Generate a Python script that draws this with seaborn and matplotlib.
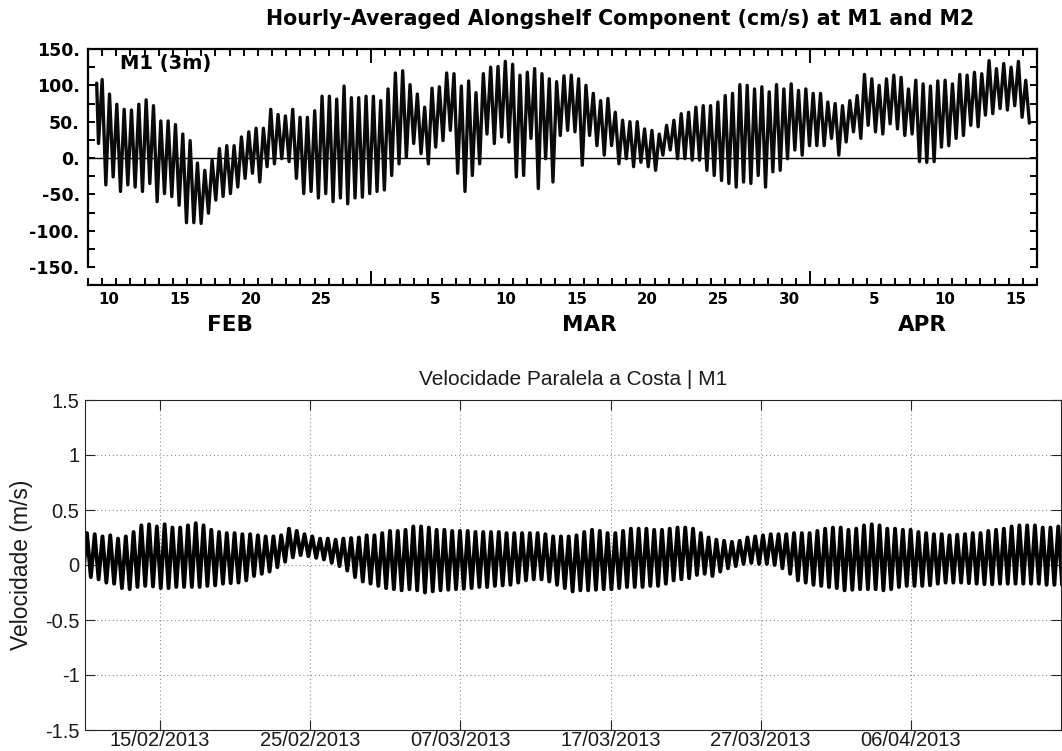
import numpy as np
import pandas as pd
import matplotlib
matplotlib.use("Agg")
import matplotlib.pyplot as plt
import matplotlib.dates as mdates
import matplotlib.ticker as mticker
import seaborn as sns

# ---------------- M1 (3 m): hourly-averaged alongshelf current, cm/s ----------------
# successive semi-diurnal highs and the low that follows each one
top_head = [103, 20]
top_highs = [
    108, 88, 74, 67, 66, 74, 80, 72, 51, 51, 46, 33, 24, -7, -17, -3, 13, 17, 17, 29,
    36, 41, 41, 67, 60, 58, 67, 56, 56, 65, 85, 85, 81, 99, 83, 83, 85, 85, 79, 95,
    117, 120, 101, 88, 70, 96, 98, 117, 116, 99, 106, 90, 116, 125, 126, 133, 129,
    114, 118, 123, 116, 109, 105, 113, 114, 109, 100, 89, 79, 82, 63, 52, 50, 50, 40,
    38, 33, 45, 52, 61, 63, 70, 72, 72, 77, 86, 89, 101, 100, 95, 98, 91, 101, 95,
    102, 93, 95, 89, 89, 77, 75, 72, 79, 86, 115, 109, 100, 109, 114, 111, 95, 107,
    102, 99, 106, 107, 102, 115, 114, 118, 116, 134, 123, 130, 125, 133, 107,
]
top_lows = [
    -37, -26, -46, -37, -40, -46, -35, -60, -49, -53, -65, -89, -89, -90, -76, -58,
    -53, -49, -40, -28, -21, -33, -12, -8, -1, -5, -28, -49, -46, -55, -49, -60, -55,
    -63, -55, -54, -49, -46, -44, -24, -8, 1, 20, 6, -8, 15, 24, 38, -21, -46, -24,
    -8, 33, 20, 29, 22, -26,
    -24, 27, -42, -1, -33, 31, 38, 36, -10, 31, 17, 4, 17, -8, -1, -12, -6, -12, -17,
    4, 11, -1, -1, -3, -3, -17, -24, -31, -35, -40, -33, -35, -24, -40, -19, -17, -1,
    11, 4, 17, 17, 17, 27, 4, 22, 36, 27, 45, 36, 33, 47, 40, 31, 33, -5, -6, -5, 15,
    17, 27, 31, 45, 43, 59, 61, 68, 66, 72, 56, 48,
]
top_ticks_days = {2: [10, 15, 20, 25], 3: [5, 10, 15, 20, 25, 30], 4: [5, 10, 15]}
top_months = ["FEB", "MAR", "APR"]
top_yticks = [-150, -100, -50, 0, 50, 100, 150]

# ---------------- M1: alongshore velocity, m/s ----------------
bot_highs = [
    0.29, 0.28, 0.26, 0.27, 0.24, 0.26, 0.30, 0.36, 0.37, 0.35,
    0.37, 0.34, 0.34, 0.36, 0.38, 0.36, 0.32, 0.30, 0.29, 0.29,
    0.28, 0.28, 0.27, 0.26, 0.26, 0.27, 0.33, 0.31, 0.28, 0.26,
    0.24, 0.24, 0.23, 0.24, 0.245, 0.25, 0.27, 0.27, 0.29, 0.31,
    0.31, 0.32, 0.35, 0.35, 0.34, 0.32, 0.32, 0.31, 0.31, 0.31,
    0.30, 0.30, 0.30, 0.30, 0.29, 0.29, 0.29, 0.29, 0.29, 0.28,
    0.26, 0.26, 0.26, 0.27, 0.30, 0.32, 0.31, 0.29, 0.29, 0.31,
    0.33, 0.33, 0.33, 0.32, 0.32, 0.33, 0.34, 0.34, 0.33, 0.29,
    0.25, 0.23, 0.22, 0.21, 0.22, 0.25, 0.26, 0.27, 0.28, 0.28,
    0.28, 0.29, 0.29, 0.29, 0.31, 0.33, 0.34, 0.34, 0.32, 0.33,
    0.36, 0.37, 0.36, 0.33, 0.33, 0.32, 0.32, 0.30, 0.29, 0.28,
    0.28, 0.27, 0.275, 0.28, 0.29, 0.29, 0.31, 0.32, 0.33, 0.35,
    0.36, 0.36, 0.36, 0.34, 0.34, 0.35, 0.34,
]
bot_lows = [
    -0.10,
    -0.11, -0.13, -0.16, -0.17, -0.21, -0.22, -0.20, -0.19, -0.195, -0.21,
    -0.21, -0.20, -0.20, -0.20, -0.20, -0.19, -0.185, -0.17, -0.165, -0.16,
    -0.14, -0.10, -0.08, -0.06, -0.02, 0.03, 0.07, 0.09, 0.08, 0.065,
    0.05, 0.02, -0.01, -0.05, -0.11, -0.15, -0.17, -0.19, -0.21, -0.22,
    -0.23, -0.22, -0.23, -0.25, -0.24, -0.23, -0.225, -0.22, -0.215, -0.21,
    -0.20, -0.20, -0.19, -0.185, -0.18, -0.16, -0.14, -0.13, -0.13, -0.15,
    -0.18, -0.21, -0.24, -0.23, -0.23, -0.225, -0.22, -0.22, -0.21, -0.20,
    -0.20, -0.20, -0.19, -0.19, -0.17, -0.14, -0.13, -0.12, -0.09, -0.08,
    -0.10, -0.06, -0.03, -0.01, 0.01, 0.02, 0.01, 0.01, 0.00, -0.03,
    -0.08, -0.14, -0.16, -0.18, -0.19, -0.20, -0.21, -0.23, -0.225, -0.22,
    -0.22, -0.22, -0.23, -0.22, -0.20, -0.19, -0.19, -0.19, -0.185, -0.17,
    -0.16, -0.16, -0.16, -0.165, -0.17, -0.175, -0.175, -0.17, -0.17, -0.17,
    -0.17, -0.17, -0.17, -0.18, -0.18, -0.18, -0.17,
]
bot_tick_dates = ["2013-02-15", "2013-02-25", "2013-03-07",
                  "2013-03-17", "2013-03-27", "2013-04-06"]
bot_yticks = [-1.5, -1, -0.5, 0, 0.5, 1, 1.5]

# semi-diurnal (M2) cycle length in days
M2 = 12.42 / 24.0
start = pd.Timestamp("2013-02-10")


def as_time(days):
    return start + pd.to_timedelta(np.asarray(days, dtype=float), unit="D")


# top record: opening hours, then high/low pairs
k = np.arange(len(top_highs))
top_days = np.empty(2 * len(k))
top_vals = np.empty(2 * len(k))
top_days[0::2], top_days[1::2] = k * M2, (k + 0.5) * M2
top_vals[0::2], top_vals[1::2] = top_highs, top_lows
top_days = np.concatenate([[-0.75 * M2, -0.5 * M2], top_days])
top_vals = np.concatenate([top_head, top_vals])
df_top = pd.DataFrame({"time": as_time(top_days), "u": top_vals})

# bottom record: low/high alternation
j = np.arange(len(bot_lows))
kb = np.arange(len(bot_highs))
bot_days = np.empty(len(j) + len(kb))
bot_vals = np.empty(len(j) + len(kb))
bot_days[0::2], bot_vals[0::2] = (j - 0.25) * M2, bot_lows
bot_days[1::2], bot_vals[1::2] = (kb + 0.25) * M2, bot_highs
df_bot = pd.DataFrame({"time": as_time(bot_days), "v": bot_vals})

sns.set_style("ticks")
plt.rcParams["axes.unicode_minus"] = False
plt.rcParams["font.family"] = ["DejaVu Sans"]
plt.rcParams["text.color"] = "black"
plt.rcParams["xtick.color"] = "black"
plt.rcParams["ytick.color"] = "black"
plt.rcParams["axes.labelcolor"] = "black"

W, H = 1062, 751
fig = plt.figure(figsize=(W / 100, H / 100), dpi=100)

# ======================= upper panel =======================
TOPF = "DejaVu Sans"
ax1 = fig.add_axes([88 / W, 1 - 267 / H, (1037 - 88) / W, (267 - 49) / H])
sns.lineplot(data=df_top, x="time", y="u", ax=ax1, color="#0a0a0a",
             linewidth=2.4, estimator=None, sort=False)
ax1.axhline(0, color="black", linewidth=1.0, zorder=1)
ax1.set_xlim(pd.Timestamp("2013-02-09"), pd.Timestamp("2013-04-17"))
ax1.set_ylim(-150, 150)
ax1.set_xlabel("")
ax1.set_ylabel("")

for s in ax1.spines.values():
    s.set_visible(True)
    s.set_linewidth(1.6)
    s.set_color("black")
gap_pt = 18 * 0.72
ax1.spines["bottom"].set_position(("outward", gap_pt))

ax1.yaxis.set_major_locator(mticker.FixedLocator(top_yticks))
ax1.yaxis.set_minor_locator(mticker.MultipleLocator(25))
ax1.yaxis.set_major_formatter(mticker.FuncFormatter(lambda v, p: f"{v:.0f}."))
ax1.tick_params(axis="y", which="both", direction="in", length=5, width=1.4,
                left=True, right=True, labelright=False, pad=6,
                color="black", labelcolor="black")
ax1.tick_params(axis="y", which="major", labelsize=12.5)
for lab in ax1.get_yticklabels():
    lab.set_fontweight("bold")

ax1.xaxis.set_major_locator(mdates.MonthLocator())
ax1.xaxis.set_minor_locator(mdates.DayLocator())
ax1.xaxis.set_major_formatter(mticker.NullFormatter())
ax1.tick_params(axis="x", which="major", direction="in", length=10, width=1.4,
                top=True, bottom=True, labelbottom=False, color="black")
ax1.tick_params(axis="x", which="minor", direction="in", length=5, width=1.4,
                top=True, bottom=True, color="black")

# day numbers centred on each day, below the detached time axis
h1_px = ax1.get_position().height * H
lab_ax = ax1.secondary_xaxis(-18 / h1_px)
pos, txt = [], []
for m, days in top_ticks_days.items():
    for d in days:
        pos.append(mdates.date2num(pd.Timestamp(2013, m, d, 12)))
        txt.append(str(d))
lab_ax.xaxis.set_major_locator(mticker.FixedLocator(pos))
lab_ax.xaxis.set_major_formatter(mticker.FixedFormatter(txt))
lab_ax.xaxis.set_minor_locator(mticker.NullLocator())
lab_ax.tick_params(axis="x", length=0, pad=5, labelsize=10.8,
                   labelcolor="black")
for s in lab_ax.spines.values():
    s.set_visible(False)
for lab in lab_ax.get_xticklabels():
    lab.set_fontweight("bold")

month_centres = [pd.Timestamp(2013, 2, 19), pd.Timestamp(2013, 3, 16, 10),
                 pd.Timestamp(2013, 4, 8, 22)]
for name, when in zip(top_months, month_centres):
    ax1.annotate(name, xy=(mdates.date2num(when), 0),
                 xycoords=("data", "axes fraction"),
                 xytext=(0, -58 * 0.72), textcoords="offset points",
                 ha="center", va="center", fontsize=15.5, fontweight="bold",
                 family=TOPF, color="black")

ax1.text(0.034, 0.935, "M1 (3m)", transform=ax1.transAxes, ha="left",
         va="center", fontsize=14, fontweight="bold", family=TOPF,
         color="black")

fig.text(620 / W, 1 - 25 / H,
         "Hourly\u2010Averaged Alongshelf Component (cm/s) at M1 and M2",
         ha="center", va="baseline", fontsize=14.8, fontweight="bold",
         family=TOPF, color="black")

# ======================= lower panel =======================
BOTF = ["Liberation Sans", "DejaVu Sans"]
ax2 = fig.add_axes([85 / W, 1 - 730 / H, (1061 - 85) / W, (730 - 400) / H])
sns.lineplot(data=df_bot, x="time", y="v", ax=ax2, color="black",
             linewidth=2.8, estimator=None, sort=False)
ax2.set_xlim(pd.Timestamp("2013-02-10"), pd.Timestamp("2013-04-16"))
ax2.set_ylim(-1.5, 1.5)

for s in ax2.spines.values():
    s.set_visible(True)
    s.set_linewidth(0.8)
    s.set_color("#262626")

ax2.xaxis.set_major_locator(mticker.FixedLocator(
    mdates.date2num(pd.to_datetime(bot_tick_dates))))
ax2.xaxis.set_major_formatter(mdates.DateFormatter("%d/%m/%Y"))
ax2.xaxis.set_minor_locator(mticker.NullLocator())
ax2.yaxis.set_major_locator(mticker.FixedLocator(bot_yticks))
ax2.yaxis.set_major_formatter(mticker.FuncFormatter(lambda v, p: f"{v:g}"))
ax2.tick_params(axis="both", which="major", direction="in", length=7,
                width=0.8, color="#262626", top=True, right=True,
                labelsize=14.5, labelcolor="#1a1a1a")
ax2.tick_params(axis="x", pad=0.8)
ax2.tick_params(axis="y", pad=4)
for lab in ax2.get_xticklabels() + ax2.get_yticklabels():
    lab.set_family(BOTF)

ax2.grid(True, linestyle=(0, (1, 2.5)), color="#8c8c8c", linewidth=0.8)
ax2.set_axisbelow(True)

ax2.set_title("Velocidade Paralela a Costa | M1", fontsize=15, pad=10.5,
              family=BOTF, color="#1a1a1a")
ax2.set_xlabel("")
ax2.set_ylabel("Velocidade (m/s)", fontsize=16.5, family=BOTF, color="#1a1a1a")
ax2.yaxis.set_label_coords(-52 / 976, 0.5)

fig.savefig("out.png", dpi=100)
